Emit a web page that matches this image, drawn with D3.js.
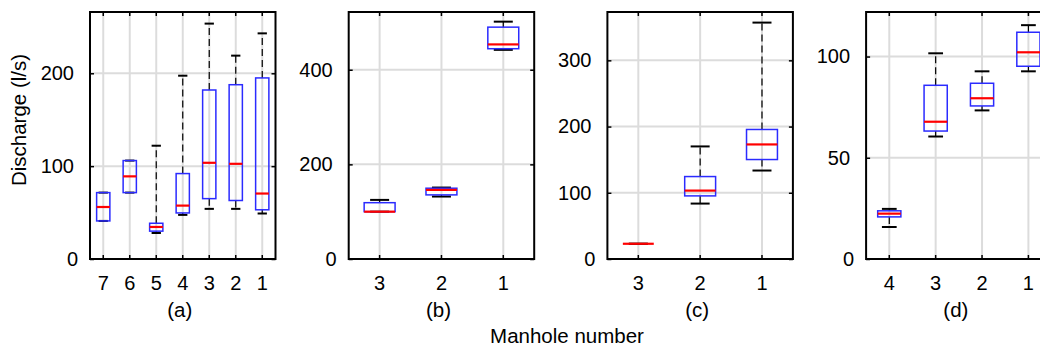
<!DOCTYPE html>
<html>
<head>
<meta charset="utf-8">
<script src="https://cdn.jsdelivr.net/npm/d3@7"></script>
<style>
  body { margin: 0; background: #fff; }
  svg { display: block; font-family: 'Liberation Sans', Arial, sans-serif; }
</style>
</head>
<body>
<svg id="chart" width="1040" height="347"></svg>
<script>
// manhole labels, left to right
const labelsA = ['7', '6', '5', '4', '3', '2', '1'];
const labelsB = ['3', '2', '1'];
const labelsC = ['3', '2', '1'];
const labelsD = ['4', '3', '2', '1'];

// box stats (l/s): lower whisker, q1, median, q3, upper whisker
const minA = [41, 71.5, 28, 47.5, 54, 54, 49];
const q1A  = [41, 71.5, 30, 49.6, 65, 63, 53];
const medA = [56, 89, 34.5, 57.5, 103.6, 102.5, 70.5];
const q3A  = [71.5, 106, 38.5, 92, 182, 187.7, 195];
const maxA = [71.5, 106, 122, 197.4, 253.5, 219, 243];

const minB = [100, 132, 442];
const q1B  = [100, 135.5, 444.4];
const medB = [100, 146, 453.5];
const q3B  = [119, 149.6, 490];
const maxB = [124.9, 151, 501.6];

const minC = [23, 83.7, 133.6];
const q1C  = [23, 95.3, 150.2];
const medC = [23, 103.3, 173];
const q3C  = [23, 124.5, 195.6];
const maxC = [23, 170, 357];

const minD = [15.8, 60.5, 73.4, 92.7];
const q1D  = [20.8, 63.2, 75.6, 95.2];
const medD = [22.4, 67.8, 79.4, 102.1];
const q3D  = [23.8, 85.8, 86.8, 112];
const maxD = [24.75, 101.6, 92.7, 115.5];

// y axis tops and tick values
const yMax = [266, 522, 373, 122];
const ticksA = [0, 100, 200];
const ticksB = [0, 200, 400];
const ticksC = [0, 100, 200, 300];
const ticksD = [0, 50, 100];
const panelNames = ['(a)', '(b)', '(c)', '(d)'];

const margin = { top: 12, left: 90 };
const plotH = 247;
const plotW = 185.5;
const step = 258.7;
const fontSize = 20;

const svg = d3.select('#chart');

const panels = [
  { labels: labelsA, min: minA, q1: q1A, med: medA, q3: q3A, max: maxA, ticks: ticksA },
  { labels: labelsB, min: minB, q1: q1B, med: medB, q3: q3B, max: maxB, ticks: ticksB },
  { labels: labelsC, min: minC, q1: q1C, med: medC, q3: q3C, max: maxC, ticks: ticksC },
  { labels: labelsD, min: minD, q1: q1D, med: medD, q3: q3D, max: maxD, ticks: ticksD }
];

panels.forEach((p, k) => {
  const g = svg.append('g')
    .attr('transform', `translate(${margin.left + k * step},${margin.top})`);

  const x = d3.scaleBand()
    .domain(p.labels)
    .range([0, plotW]);
  const y = d3.scaleLinear()
    .domain([0, yMax[k]])
    .range([plotH, 0]);

  const bw = x.bandwidth() * 0.5;
  const cw = bw * 0.55 + 2;
  const cx = (d) => x(d) + x.bandwidth() / 2;

  // grid
  g.selectAll('.vgrid')
    .data(p.labels)
    .enter()
    .append('line')
    .attr('x1', cx).attr('x2', cx)
    .attr('y1', 0).attr('y2', plotH)
    .attr('stroke', '#dcdcdc')
    .attr('stroke-width', 2);
  g.selectAll('.hgrid')
    .data(p.ticks.filter((t) => t > 0))
    .enter()
    .append('line')
    .attr('x1', 0).attr('x2', plotW)
    .attr('y1', (d) => y(d)).attr('y2', (d) => y(d))
    .attr('stroke', '#dcdcdc')
    .attr('stroke-width', 2);

  const rows = p.labels.map((l, i) => ({
    l: l, min: p.min[i], q1: p.q1[i], med: p.med[i], q3: p.q3[i], max: p.max[i]
  }));

  const box = g.selectAll('.box')
    .data(rows)
    .enter()
    .append('g');

  // whiskers (dashed)
  box.append('line')
    .attr('x1', (d) => cx(d.l)).attr('x2', (d) => cx(d.l))
    .attr('y1', (d) => y(d.q3)).attr('y2', (d) => y(d.max))
    .attr('stroke', '#000')
    .attr('stroke-width', 1.2)
    .attr('stroke-dasharray', '7,4');
  box.append('line')
    .attr('x1', (d) => cx(d.l)).attr('x2', (d) => cx(d.l))
    .attr('y1', (d) => y(d.q1)).attr('y2', (d) => y(d.min))
    .attr('stroke', '#000')
    .attr('stroke-width', 1.2)
    .attr('stroke-dasharray', '7,4');

  // caps
  ['min', 'max'].forEach((key) => {
    box.append('line')
      .attr('x1', (d) => cx(d.l) - cw / 2).attr('x2', (d) => cx(d.l) + cw / 2)
      .attr('y1', (d) => y(d[key])).attr('y2', (d) => y(d[key]))
      .attr('stroke', '#000')
      .attr('stroke-width', 2);
  });

  // box
  box.append('rect')
    .attr('x', (d) => cx(d.l) - bw / 2)
    .attr('y', (d) => y(d.q3))
    .attr('width', bw)
    .attr('height', (d) => y(d.q1) - y(d.q3))
    .attr('fill', 'none')
    .attr('stroke', '#2b2bff')
    .attr('stroke-width', 1.5);

  // median
  box.append('line')
    .attr('x1', (d) => cx(d.l) - bw / 2).attr('x2', (d) => cx(d.l) + bw / 2)
    .attr('y1', (d) => y(d.med)).attr('y2', (d) => y(d.med))
    .attr('stroke', '#ff0000')
    .attr('stroke-width', 2.2);

  // axes: ticks on all four sides, pointing in
  const xb = g.append('g').attr('transform', `translate(0,${plotH})`)
    .call(d3.axisBottom(x).tickSize(-4).tickPadding(12));
  g.append('g').call(d3.axisTop(x).tickSize(-4).tickFormat(''));
  const yl = g.append('g').call(d3.axisLeft(y).tickValues(p.ticks).tickSize(-4).tickPadding(14));
  g.append('g').attr('transform', `translate(${plotW},0)`)
    .call(d3.axisRight(y).tickValues(p.ticks).tickSize(-4).tickFormat(''));

  g.selectAll('.domain').remove();
  g.selectAll('.tick line').attr('stroke', '#000').attr('stroke-width', 1.5);
  g.selectAll('.tick text')
    .attr('fill', '#000')
    .style('font-size', fontSize + 'px')
    .style('font-family', "'Liberation Sans', Arial, sans-serif");
  xb.selectAll('.tick text').attr('dy', '0.95em');
  yl.selectAll('.tick text').attr('x', (d) => d === 0 ? -12 : -16);

  // frame
  g.append('rect')
    .attr('width', plotW)
    .attr('height', plotH)
    .attr('fill', 'none')
    .attr('stroke', '#000')
    .attr('stroke-width', 2);

  // panel name
  g.append('text')
    .attr('x', plotW / 2 - 3)
    .attr('y', plotH + 58)
    .attr('text-anchor', 'middle')
    .style('font-size', '20.5px')
    .text(panelNames[k]);
});

// axis titles
svg.append('text')
  .attr('transform', 'translate(26,120) rotate(-90)')
  .attr('text-anchor', 'middle')
  .style('font-size', '20.5px')
  .text('Discharge (l/s)');

svg.append('text')
  .attr('x', 567)
  .attr('y', 343)
  .attr('text-anchor', 'middle')
  .style('font-size', '20.5px')
  .text('Manhole number');
</script>
</body>
</html>
